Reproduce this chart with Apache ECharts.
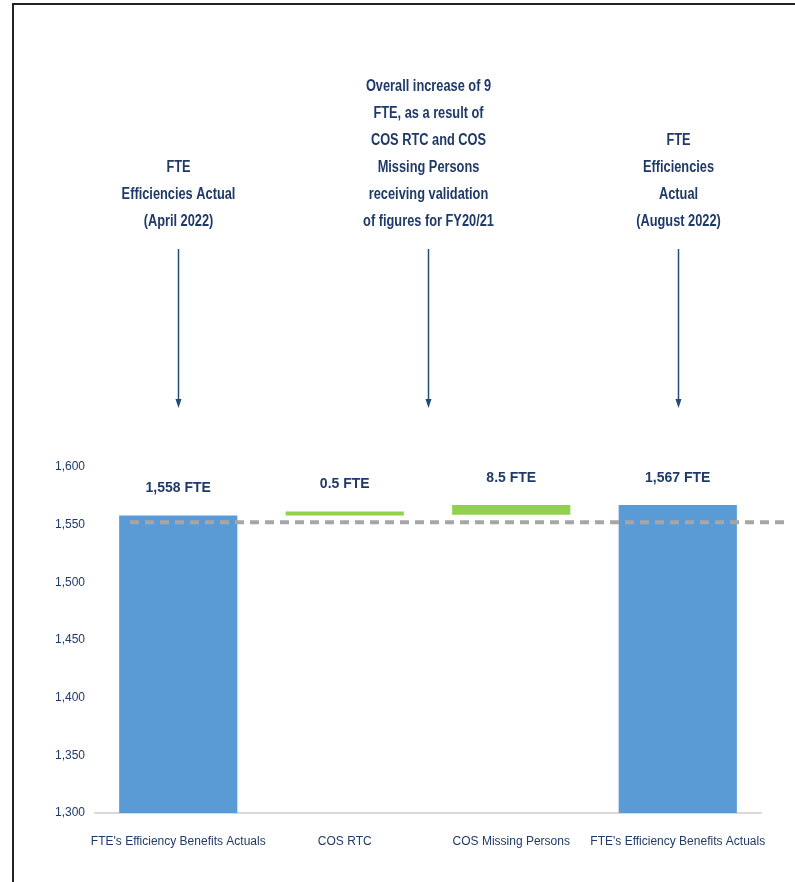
<!DOCTYPE html>
<html>
<head>
<meta charset="utf-8">
<script src="https://cdn.jsdelivr.net/npm/echarts@6/dist/echarts.min.js"></script>
<style>
  html, body { margin: 0; padding: 0; background: #ffffff; }
  #chart { width: 795px; height: 882px; }
</style>
</head>
<body>
<div id="chart"></div>
<script>
// Waterfall of FTE efficiency benefits: opening actual, two validated changes, closing actual
const categories = ["FTE's Efficiency Benefits Actuals", "COS RTC", "COS Missing Persons", "FTE's Efficiency Benefits Actuals"];
const openingFTE = 1558;
const changes = [0.5, 8.5];           // COS RTC, COS Missing Persons
const closingFTE = 1567;
const baselineFTE = 1552;             // dashed reference level
const yTicks = { min: 1300, max: 1600, interval: 50 };

const annotations = [
  { at: 0, text: 'FTE\nEfficiencies Actual\n(April 2022)' },
  { at: 1.5, text: 'Overall increase of 9\nFTE, as a result of\nCOS RTC and COS\nMissing Persons\nreceiving validation\nof figures for FY20/21' },
  { at: 3, text: 'FTE\nEfficiencies\nActual\n(August 2022)' }
];

const NAVY = '#1f3a68';
const FONT = '"Liberation Sans Narrow", "Liberation Sans", Arial, sans-serif';

// Invisible offsets that lift each change bar to the running total
const helper = ['-'];
let running = openingFTE;
changes.forEach(c => { helper.push(running); running += c; });
helper.push('-');

const totals = [openingFTE, '-', '-', closingFTE];
const deltas = ['-'].concat(changes, ['-']);

const fmt = v => v.toLocaleString('en-US', { maximumFractionDigits: 1 }) + ' FTE';

const labelStyle = {
  show: true, position: 'top', distance: 20,
  color: NAVY, fontFamily: FONT, fontWeight: 'bold', fontSize: 14,
  formatter: p => fmt(p.value)
};

const chart = echarts.init(document.getElementById('chart'), null, { renderer: 'canvas' });

chart.setOption({
  backgroundColor: '#ffffff',
  animation: false,
  grid: { left: 95, right: 34, top: 467, bottom: 69, containLabel: false },
  xAxis: {
    type: 'category',
    data: categories,
    axisLine: { show: true, lineStyle: { color: '#d9d9d9', width: 2 } },
    axisTick: { show: false },
    axisLabel: { color: NAVY, fontFamily: FONT, fontSize: 12, margin: 23, interval: 0 }
  },
  yAxis: {
    type: 'value',
    min: yTicks.min, max: yTicks.max, interval: yTicks.interval,
    axisLine: { show: false },
    axisTick: { show: false },
    splitLine: { show: false },
    axisLabel: {
      color: NAVY, fontFamily: FONT, fontSize: 12, margin: 10,
      formatter: v => v.toLocaleString('en-US')
    }
  },
  series: [
    {
      name: 'offset', type: 'bar', stack: 'flow', barWidth: '71%',
      data: helper, itemStyle: { color: 'rgba(0,0,0,0)' }, silent: true
    },
    {
      name: 'change', type: 'bar', stack: 'flow', barWidth: '71%', barMinHeight: 4,
      data: deltas, itemStyle: { color: '#92d050' }, label: labelStyle
    },
    {
      name: 'actual', type: 'bar', stack: 'flow', barWidth: '71%',
      data: totals, itemStyle: { color: '#5b9bd5' }, label: labelStyle
    }
  ]
});

// Annotations, arrows, dashed reference line and frame placed from the axes
function xAt(pos) {
  const lo = Math.floor(pos), hi = Math.ceil(pos);
  const a = chart.convertToPixel({ xAxisIndex: 0 }, lo);
  const b = chart.convertToPixel({ xAxisIndex: 0 }, hi);
  return a + (b - a) * (pos - lo);
}
const baseY = chart.convertToPixel({ yAxisIndex: 0 }, baselineFTE);

const graphics = [];
annotations.forEach(a => {
  const x = Math.round(xAt(a.at)) + 0.5;
  graphics.push({
    type: 'text', z: 20,
    x: x, y: 235, scaleX: 0.8, scaleY: 1,
    style: {
      x: 0, y: 0, text: a.text, align: 'center', verticalAlign: 'bottom',
      fill: NAVY, font: 'bold 16px ' + FONT, lineHeight: 27
    }
  });
  graphics.push({
    type: 'line', z: 20,
    shape: { x1: x, y1: 249, x2: x, y2: 400 },
    style: { stroke: '#244a7a', lineWidth: 1.5 }
  });
  graphics.push({
    type: 'polygon', z: 20,
    shape: { points: [[x - 3, 399], [x + 3, 399], [x, 408]] },
    style: { fill: '#244a7a' }
  });
});

graphics.push({
  type: 'line', z: 30,
  shape: { x1: 130, y1: baseY, x2: 786, y2: baseY },
  style: { stroke: '#a6a6a6', lineWidth: 4, lineDash: [9, 6] }
});

// page frame
graphics.push({ type: 'line', z: 40, shape: { x1: 12, y1: 4, x2: 795, y2: 4 }, style: { stroke: '#222', lineWidth: 2 } });
graphics.push({ type: 'line', z: 40, shape: { x1: 13, y1: 4, x2: 13, y2: 882 }, style: { stroke: '#222', lineWidth: 2 } });

chart.setOption({ graphic: graphics });
</script>
</body>
</html>
